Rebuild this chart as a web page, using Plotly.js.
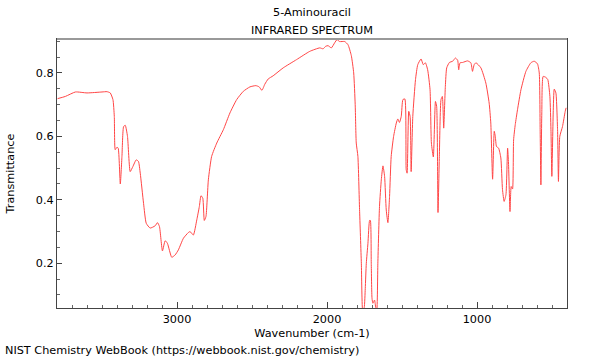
<!DOCTYPE html>
<html>
<head>
<meta charset="utf-8">
<script src="https://cdn.plot.ly/plotly-3.0.1.min.js"></script>
<style>html,body{margin:0;padding:0;background:#fff;}#chart{width:600px;height:360px;}</style>
</head>
<body>
<div id="chart"></div>
<script>
const wavenumber = [3796,3744,3677,3600,3500,3467,3445,3427,3418,3412,3400,3392,3378,3367,3356,3345,3330,3312,3294,3272,3257,3245,3223,3205,3179,3146,3130,3117,3097,3079,3064,3035,3013,2991,2957,2924,2913,2891,2868,2851,2840,2828,2818,2807,2791,2769,2735,2691,2647,2602,2558,2514,2474,2452,2434,2414,2392,2359,2292,2203,2115,2048,2026,2009,1993,1971,1949,1933,1916,1882,1860,1838,1822,1812,1805,1794,1783,1771,1762,1752,1745,1738,1727,1716,1711,1705,1700,1694,1683,1675,1668,1661,1650,1638,1627,1616,1605,1594,1583,1572,1556,1538,1528,1517,1505,1494,1481,1472,1466,1455,1446,1439,1428,1410,1395,1373,1358,1344,1329,1313,1304,1291,1277,1269,1260,1251,1240,1231,1222,1211,1202,1184,1162,1144,1129,1122,1113,1096,1063,1041,1030,1019,1007,974,941,919,908,896,885,878,870,856,841,830,819,807,796,790,780,772,763,756,745,730,707,674,641,619,597,585,579,574,568,559,541,528,514,507,501,492,485,474,463,457,448,430,412,406];
const transmittance = [0.719,0.726,0.740,0.737,0.740,0.741,0.737,0.716,0.663,0.558,0.566,0.563,0.450,0.537,0.631,0.635,0.600,0.489,0.505,0.526,0.521,0.484,0.389,0.326,0.311,0.318,0.328,0.316,0.239,0.271,0.263,0.219,0.226,0.242,0.279,0.297,0.300,0.289,0.337,0.379,0.413,0.405,0.335,0.347,0.463,0.537,0.579,0.621,0.674,0.716,0.742,0.756,0.760,0.756,0.745,0.765,0.781,0.791,0.816,0.842,0.868,0.879,0.876,0.884,0.886,0.879,0.895,0.905,0.899,0.899,0.889,0.855,0.800,0.700,0.579,0.537,0.370,0.200,0.050,0.060,0.120,0.200,0.263,0.335,0.335,0.200,0.090,0.074,0.084,0.060,0.050,0.200,0.379,0.463,0.507,0.474,0.368,0.328,0.410,0.537,0.600,0.642,0.655,0.644,0.663,0.716,0.718,0.495,0.484,0.679,0.663,0.489,0.663,0.779,0.826,0.844,0.826,0.832,0.810,0.747,0.579,0.535,0.710,0.695,0.360,0.537,0.716,0.726,0.626,0.758,0.816,0.833,0.837,0.847,0.840,0.810,0.832,0.833,0.838,0.832,0.805,0.826,0.832,0.816,0.768,0.705,0.642,0.465,0.616,0.600,0.568,0.563,0.532,0.432,0.395,0.416,0.563,0.516,0.363,0.442,0.434,0.589,0.637,0.684,0.747,0.805,0.832,0.837,0.829,0.800,0.621,0.447,0.674,0.789,0.786,0.779,0.726,0.621,0.474,0.674,0.749,0.737,0.621,0.458,0.600,0.631,0.679,0.690];
const yTickVals = [0.2,0.4,0.6,0.8];
const yTickText = ['0.2','0.4','0.6','0.8'];
const xTickVals = [3000,2000,1000];
const xTickText = ['3000','2000','1000'];
const titleLines = ['5-Aminouracil', 'INFRARED SPECTRUM'];

const FONT = 'DejaVu Sans, sans-serif';
const FS = 11.25;
const PH = 269, PW = 510;
const trace = {
  x: wavenumber, y: transmittance, type: 'scatter', mode: 'lines',
  line: {color: 'rgb(255,70,70)', width: 1, shape: 'spline', smoothing: 0.5},
  hoverinfo: 'skip'
};
const layout = {
  width: 600, height: 360,
  margin: {l: 57, r: 33, t: 39, b: 52},
  paper_bgcolor: '#fff', plot_bgcolor: '#fff',
  showlegend: false,
  font: {family: FONT, size: FS, color: '#000'},
  xaxis: {
    range: [3800, 400], showgrid: false, zeroline: false,
    showline: true, linecolor: '#444', linewidth: 1, mirror: true,
    tickmode: 'array', tickvals: xTickVals, ticktext: xTickText,
    ticks: 'inside', ticklen: 6, tickcolor: '#444', tickwidth: 1,
    minor: {dtick: 100, tick0: 0, ticks: 'inside', ticklen: 3, tickcolor: '#666', showgrid: false},
    tickfont: {family: FONT, size: FS, color: '#000'},
    title: {text: 'Wavenumber (cm-1)', font: {family: FONT, size: FS, color: '#000'}, standoff: 4}
  },
  yaxis: {
    range: [0.059, 0.907], showgrid: false, zeroline: false,
    showline: true, linecolor: '#444', linewidth: 1, mirror: true,
    tickmode: 'array', tickvals: yTickVals, ticktext: yTickText,
    ticks: 'inside', ticklen: 5, tickcolor: '#444', tickwidth: 1,
    minor: {dtick: 0.05, tick0: 0, ticks: 'inside', ticklen: 3, tickcolor: '#666', showgrid: false},
    tickfont: {family: FONT, size: FS, color: '#000'},
    title: {text: 'Transmittance', font: {family: FONT, size: FS, color: '#000'}, standoff: 18}
  },
  shapes: [{type: 'line', xref: 'paper', yref: 'paper', x0: 0, x1: 1, y0: 1, y1: 1, line: {color: '#999', width: 2}}],
  annotations: [
    {text: titleLines[0], xref: 'paper', yref: 'paper', x: 0.5, y: 1 + 27/PH, xanchor: 'center', yanchor: 'middle', showarrow: false, font: {family: FONT, size: FS, color: '#000'}},
    {text: titleLines[1], xref: 'paper', yref: 'paper', x: 0.5, y: 1 + 9/PH, xanchor: 'center', yanchor: 'middle', showarrow: false, font: {family: FONT, size: FS, color: '#000'}},
    {text: 'NIST Chemistry WebBook (https://webbook.nist.gov/chemistry)', xref: 'paper', yref: 'paper', x: -57/PW, y: -52/PH, xanchor: 'left', yanchor: 'bottom', yshift: 1, xshift: 3, showarrow: false, font: {family: FONT, size: FS, color: '#000'}}
  ]
};
Plotly.newPlot('chart', [trace], layout, {staticPlot: true, displayModeBar: false});
</script>
</body>
</html>
